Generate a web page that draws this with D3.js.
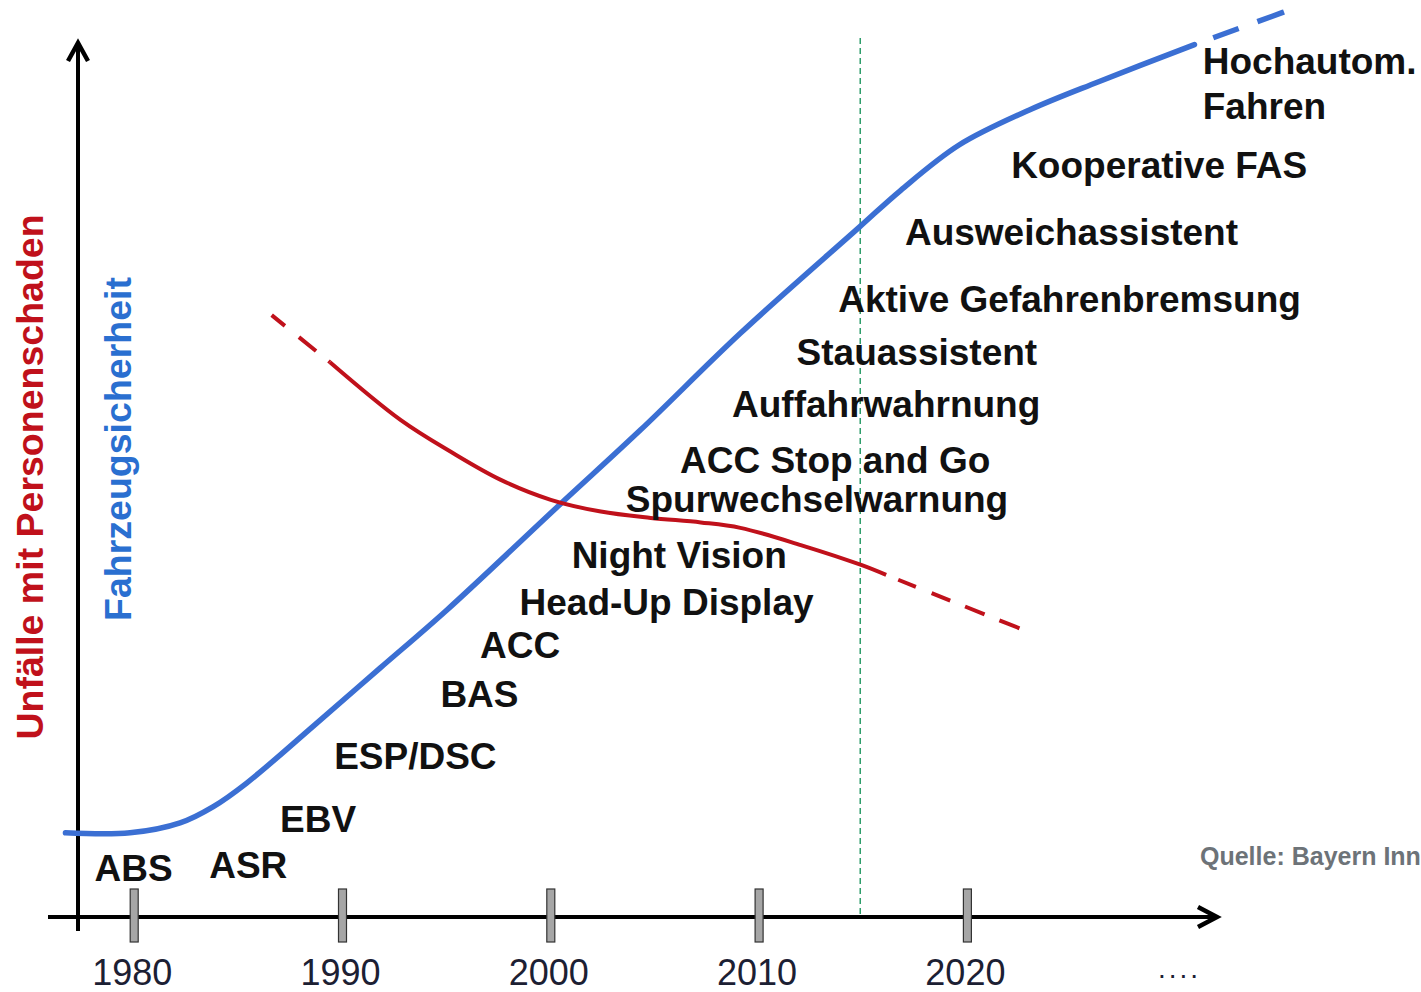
<!DOCTYPE html>
<html><head><meta charset="utf-8">
<script src="https://cdn.jsdelivr.net/npm/d3@7/dist/d3.min.js"></script>
<style>html,body{margin:0;padding:0;background:#fff;overflow:hidden;}svg{display:block;}</style>
</head><body>
<svg id="chart" width="1421" height="992"></svg>
<script>
// ---- data ----
const tickYears = [1980, 1990, 2000, 2010, 2020];
const tickLabels = ["1980", "1990", "2000", "2010", "2020"];
const markerYear = 2015;

// Fahrzeugsicherheit (blue) – [year, level]
const blueSolid = [[1976.7,9.3],[1979.8,9.3],[1982.2,10.4],[1983.8,12.2],[1985.4,14.8],[1988.6,21.1],[1991.8,27.5],[1995.0,33.9],[2000.4,45.5],[2004.3,53.8],[2009.1,64.5],[2014.8,76.2],[2016.8,80.3],[2019.6,85.3],[2023.0,89.2],[2026.3,92.3],[2030.9,96.4]];
const blueDashed = [[2030.9,96.4],[2035.2,100.0]];

// Unfälle mit Personenschaden (red) – [year, level]
const redDashStart = [[1986.6,66.5],[1989.4,61.3]];
const redSolid = [[1989.4,61.3],[1992.8,54.9],[1995.2,51.4],[1997.6,48.3],[2000.0,46.1],[2002.4,44.8],[2004.8,44.1],[2007.2,43.6],[2009.1,43.0],[2012.0,41.1],[2014.9,38.9],[2016.1,37.8]];
const redDashEnd = [[2016.1,37.8],[2022.5,31.9]];

// Assistenzsysteme – name, year (left of label), level (baseline)
const featureNames = ["ABS","ASR","EBV","ESP/DSC","BAS","ACC","Head-Up Display","Night Vision","Spurwechselwarnung","ACC Stop and Go","Auffahrwahrnung","Stauassistent","Aktive Gefahrenbremsung","Ausweichassistent","Kooperative FAS","Hochautom.","Fahren"];
const featureYears = [1978.1,1983.6,1987.0,1989.6,1994.7,1996.6,1998.5,2001.0,2003.6,2006.2,2008.7,2011.8,2013.8,2017.0,2022.1,2031.3,2031.3];
const featureLevels = [4.0,4.3,9.4,16.4,23.2,28.6,33.4,38.6,44.7,49.1,55.2,61.0,66.9,74.2,81.7,93.1,88.2];

// ---- drawing ----
const svg = d3.select("#chart");
const x = d3.scaleLinear().domain([1980, 2020]).range([134.2, 967.4]);
const y = d3.scaleLinear().domain([0, 100]).range([917, 12]);
const line = d3.line().x(d => x(d[0])).y(d => y(d[1])).curve(d3.curveCatmullRom.alpha(0.5));
const straight = d3.line().x(d => x(d[0])).y(d => y(d[1]));
const FONT = "Liberation Sans, Arial, sans-serif";

const axisY = y(0), axisX = 78;
// green marker line
svg.append("line").attr("x1", x(markerYear) - 3).attr("x2", x(markerYear) - 3)
  .attr("y1", 38).attr("y2", 917)
  .attr("stroke", "#2e9e6b").attr("stroke-width", 1.5).attr("stroke-dasharray", "6,4");

// axes
svg.append("line").attr("x1", 48).attr("x2", 1215).attr("y1", axisY).attr("y2", axisY)
  .attr("stroke", "#000").attr("stroke-width", 4);
svg.append("path").attr("d", `M1198,${axisY-10} L1217,${axisY} L1198,${axisY+10}`)
  .attr("fill", "none").attr("stroke", "#000").attr("stroke-width", 4.5);
svg.append("line").attr("x1", axisX).attr("x2", axisX).attr("y1", 44).attr("y2", 931)
  .attr("stroke", "#000").attr("stroke-width", 4);
svg.append("path").attr("d", `M${axisX-10},61 L${axisX},43 L${axisX+10},61`)
  .attr("fill", "none").attr("stroke", "#000").attr("stroke-width", 4.5);

// ticks
svg.selectAll("rect.tick").data(tickYears).join("rect")
  .attr("x", d => x(d) - 4).attr("y", 889).attr("width", 8).attr("height", 53)
  .attr("fill", "#a6a6a6").attr("stroke", "#333").attr("stroke-width", 1.2);
svg.selectAll("text.year").data(tickLabels).join("text")
  .attr("x", (d, i) => x(tickYears[i]) - 2).attr("y", 985)
  .attr("text-anchor", "middle").attr("font-family", FONT)
  .attr("font-size", 36).attr("fill", "#1c2033").text(d => d);
svg.append("text").attr("x", 1158).attr("y", 978)
  .attr("font-family", FONT).attr("font-size", 28).attr("letter-spacing", 3)
  .attr("fill", "#1c2033").text("....");

// curves
const blue = "#3b6fd3", red = "#c0111b";
svg.append("path").attr("d", line(blueSolid)).attr("fill", "none").attr("stroke", blue).attr("stroke-width", 5.5).attr("stroke-linecap", "round");
svg.append("path").attr("d", straight(blueDashed)).attr("fill", "none").attr("stroke", blue).attr("stroke-width", 5.5).attr("stroke-dasharray", "0,20,27,20,27");
svg.append("path").attr("d", straight(redDashStart)).attr("fill", "none").attr("stroke", red).attr("stroke-width", 4).attr("stroke-dasharray", "17,18,22,16");
svg.append("path").attr("d", line(redSolid)).attr("fill", "none").attr("stroke", red).attr("stroke-width", 4);
svg.append("path").attr("d", straight(redDashEnd)).attr("fill", "none").attr("stroke", red).attr("stroke-width", 4).attr("stroke-dasharray", "0,13,19,17,20,16,21,16,21");

// feature labels
svg.selectAll("text.feat").data(featureNames).join("text")
  .attr("x", (d, i) => x(featureYears[i])).attr("y", (d, i) => y(featureLevels[i]))
  .attr("font-family", FONT).attr("font-weight", "bold")
  .attr("font-size", 37).attr("fill", "#111").text(d => d);

// axis titles
svg.append("text").attr("transform", "translate(43,477) rotate(-90)").attr("text-anchor", "middle")
  .attr("font-family", FONT).attr("font-weight", "bold")
  .attr("font-size", 37.5).attr("fill", "#c0111b").text("Unfälle mit Personenschaden");
svg.append("text").attr("transform", "translate(131,449) rotate(-90)").attr("text-anchor", "middle")
  .attr("font-family", FONT).attr("font-weight", "bold")
  .attr("font-size", 37.5).attr("fill", "#2a6fd0").text("Fahrzeugsicherheit");

// source (cut at the right edge as in the original)
svg.append("text").attr("x", 1200).attr("y", 865)
  .attr("font-family", FONT).attr("font-weight", "bold")
  .attr("font-size", 25).attr("fill", "#6d7378").text("Quelle: Bayern Innovativ");
</script>
</body></html>
